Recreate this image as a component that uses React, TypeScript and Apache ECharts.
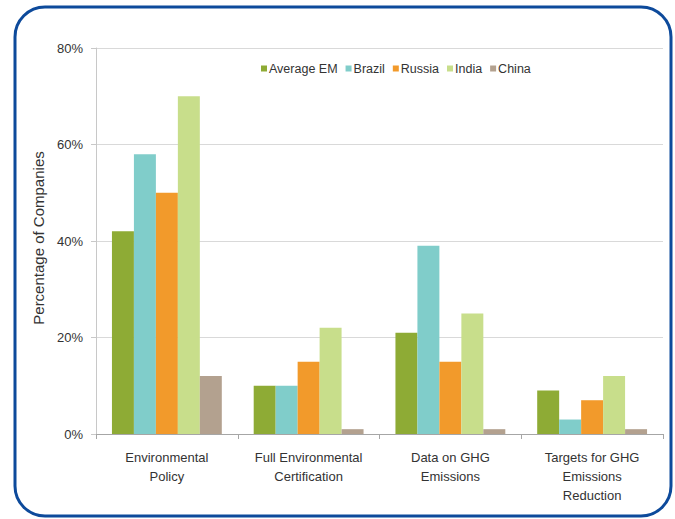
import React, { useEffect, useRef } from "react";
import * as echarts from "echarts";

const categories = [
  "Environmental\nPolicy",
  "Full Environmental\nCertification",
  "Data on GHG\nEmissions",
  "Targets for GHG\nEmissions\nReduction",
];
const seriesNames = ["Average EM", "Brazil", "Russia", "India", "China"];
const averageEM = [42, 10, 21, 9];
const brazil = [58, 10, 39, 3];
const russia = [50, 15, 15, 7];
const india = [70, 22, 25, 12];
const china = [12, 1, 1, 1];
const seriesValues = [averageEM, brazil, russia, india, china];
const colors = ["#8eab35", "#80cdca", "#f29a2b", "#c8de8b", "#b3a18f"];
const yTicks = [0, 20, 40, 60, 80];

export default function App() {
  const ref = useRef<HTMLDivElement>(null);
  useEffect(() => {
    if (!ref.current) return;
    const chart = echarts.init(ref.current, null, { renderer: "svg" });
    const font = "Liberation Sans, Arial, sans-serif";
    chart.setOption({
      animation: false,
      backgroundColor: "#ffffff",
      textStyle: { fontFamily: font },
      grid: { left: 96, right: 12, top: 48, bottom: 85, containLabel: false },
      legend: {
        data: seriesNames,
        left: 256,
        top: 57,
        icon: "rect",
        itemWidth: 6,
        itemHeight: 6,
        itemGap: 8,
        textStyle: { fontSize: 12.5, color: "#333", fontFamily: font, padding: [0, 0, 0, -3] },
      },
      xAxis: {
        type: "category",
        data: categories,
        axisLine: { show: true, lineStyle: { color: "#a6a6a6", width: 1 } },
        axisTick: { show: true, length: 5, lineStyle: { color: "#a6a6a6" } },
        axisLabel: {
          interval: 0,
          fontSize: 13,
          lineHeight: 19,
          color: "#333",
          margin: 14,
          fontFamily: font,
        },
      },
      yAxis: {
        type: "value",
        min: yTicks[0],
        max: yTicks[yTicks.length - 1],
        interval: 20,
        axisLine: { show: true, lineStyle: { color: "#c8c8c8" } },
        axisTick: { show: true, length: 5, lineStyle: { color: "#c8c8c8" } },
        splitLine: { show: true, lineStyle: { color: "#d9d9d9", width: 1 } },
        axisLabel: {
          formatter: "{value}%",
          fontSize: 13,
          color: "#333",
          margin: 13,
          fontFamily: font,
        },
      },
      series: seriesValues.map((vals, i) => ({
        name: seriesNames[i],
        type: "bar",
        data: vals,
        barGap: "0%",
        barCategoryGap: "22.5%",
        itemStyle: { color: colors[i] },
      })),
      graphic: [
        {
          type: "text",
          x: 38,
          y: 238,
          rotation: Math.PI / 2,
          style: {
            text: "Percentage of Companies",
            fontSize: 15,
            fill: "#333",
            fontFamily: font,
            textAlign: "center",
            textVerticalAlign: "middle",
          },
        },
        {
          type: "rect",
          shape: { x: 15, y: 7, width: 656, height: 509, r: 30 },
          style: { fill: "none", stroke: "#0d4a9b", lineWidth: 3 },
          z: 100,
        },
      ],
    });
    return () => chart.dispose();
  }, []);
  return (
    <div
      ref={ref}
      style={{ position: "fixed", left: 0, top: 0, width: 675, height: 519 }}
    />
  );
}
